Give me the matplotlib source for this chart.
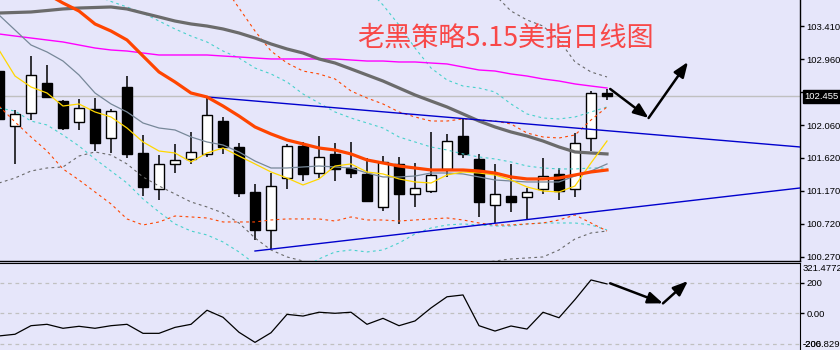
import numpy as np
import matplotlib
matplotlib.use('Agg')
import matplotlib.pyplot as plt
from matplotlib.patches import Rectangle
from matplotlib import transforms

plt.rcParams['font.family'] = ['Noto Sans CJK SC', 'DejaVu Sans']
narrow = ['Liberation Sans', 'DejaVu Sans']
lab_fs = 6.8

# ------------------------
# data (daily bars, oldest first)
# ------------------------
opens = [102.798, 102.050, 102.227, 102.635, 102.390, 102.105, 102.282, 101.887, 102.581, 101.683,
         101.194, 101.534, 101.602, 101.670, 102.118, 101.765, 101.153, 100.636, 101.343, 101.778,
         101.411, 101.670, 101.479, 101.398, 100.949, 101.534, 101.126, 101.166, 101.466, 101.914,
         101.602, 100.976, 101.098, 101.085, 101.194, 101.398, 101.194, 101.887, 102.499]
highs = [102.866, 102.268, 103.002, 102.880, 102.404, 102.418, 102.431, 102.282, 102.730, 101.928,
         101.656, 101.806, 101.969, 102.445, 102.173, 101.819, 101.262, 101.411, 101.806, 101.833,
         101.914, 101.819, 101.833, 101.615, 101.642, 101.629, 101.547, 101.969, 101.942, 102.146,
         101.670, 101.534, 101.534, 101.207, 101.615, 101.479, 101.955, 102.526, 102.554]
lows = [102.064, 101.534, 102.132, 102.431, 101.996, 101.996, 101.710, 101.683, 101.615, 101.098,
        101.044, 101.411, 101.534, 101.629, 101.670, 101.085, 100.500, 100.378, 101.194, 101.302,
        101.343, 101.302, 101.343, 101.017, 100.894, 100.718, 100.949, 101.139, 101.357, 101.615,
        100.813, 100.731, 100.881, 100.786, 101.126, 101.044, 101.085, 101.710, 102.404]
closes = [102.146, 102.214, 102.744, 102.445, 102.023, 102.295, 101.819, 102.254, 101.670, 101.221,
          101.534, 101.588, 101.697, 102.200, 101.765, 101.139, 100.636, 101.234, 101.778, 101.398,
          101.629, 101.466, 101.411, 101.030, 101.561, 101.126, 101.207, 101.384, 101.846, 101.670,
          101.017, 101.126, 101.017, 101.153, 101.370, 101.166, 101.819, 102.499, 102.455]

nan = np.nan
ma_slow = [103.587, 103.594, 103.601, 103.621, 103.642, 103.655, 103.662, 103.669, 103.642, 103.587,
           103.533, 103.478, 103.438, 103.410, 103.370, 103.315, 103.247, 103.166, 103.098, 103.043,
           102.962, 102.907, 102.826, 102.744, 102.662, 102.567, 102.472, 102.390, 102.309, 102.214,
           102.118, 102.037, 101.969, 101.914, 101.846, 101.765, 101.697, 101.683, 101.670]
ma_mid = [104.308, 104.145, 103.995, 103.846, 103.723, 103.614, 103.438, 103.342, 103.220, 103.002,
          102.785, 102.649, 102.499, 102.445, 102.322, 102.186, 102.037, 101.942, 101.860, 101.806,
          101.751, 101.724, 101.670, 101.588, 101.547, 101.506, 101.479, 101.452, 101.452, 101.452,
          101.438, 101.411, 101.357, 101.330, 101.330, 101.343, 101.384, 101.425, 101.452]
ma_long = [103.302, 103.274, 103.247, 103.220, 103.193, 103.152, 103.111, 103.084, 103.070, 103.043,
           103.016, 103.016, 103.016, 103.016, 103.002, 102.989, 102.975, 102.962, 102.962, 102.962,
           102.962, 102.962, 102.948, 102.934, 102.934, 102.921, 102.921, 102.907, 102.894, 102.853,
           102.812, 102.798, 102.758, 102.730, 102.690, 102.662, 102.622, 102.594, 102.567]
ma_10 = [103.560, 103.356, 103.152, 103.057, 102.934, 102.744, 102.499, 102.350, 102.241, 102.091,
         102.023, 101.996, 101.901, 101.833, 101.792, 101.697, 101.574, 101.479, 101.479, 101.493,
         101.506, 101.493, 101.479, 101.411, 101.357, 101.357, 101.370, 101.411, 101.411, 101.398,
         101.357, 101.316, 101.302, 101.289, 101.289, 101.289, 101.370, 101.438, 101.534]
ma_5 = [103.084, 102.730, 102.581, 102.499, 102.322, 102.350, 102.241, 102.173, 102.023, 101.833,
        101.710, 101.683, 101.561, 101.683, 101.751, 101.642, 101.534, 101.425, 101.343, 101.248,
        101.330, 101.506, 101.534, 101.425, 101.398, 101.330, 101.289, 101.275, 101.384, 101.425,
        101.411, 101.384, 101.316, 101.221, 101.166, 101.153, 101.234, 101.547, 101.846]

bb_mid = [nan, nan, nan, nan, nan, nan, 103.832, 103.744, 103.669, 103.587,
          103.478, 103.370, 103.274, 103.193, 103.070, 102.975, 102.839, 102.758, 102.649, 102.486,
          102.363, 102.241, 102.159, 102.091, 102.023, 101.901, 101.833, 101.765, 101.724, 101.670,
          101.629, 101.602, 101.561, 101.506, 101.479, 101.466, 101.466, 101.479, 101.479]
bb_up = [nan] * 23 + [103.927, 103.696, 103.424, 103.111, 102.839, 102.676, 102.594,
                      102.567, 102.513, 102.350, 102.214, 102.159, 102.146, 102.173, 102.241, 102.309]
bb_low = [102.295, 102.254, 102.118, 102.064, 101.928, 101.778, 101.602, 101.438, 101.275, 101.058,
          100.881, 100.718, 100.622, 100.568, 100.473, 100.337, 100.174, 100.092, 100.065, 100.119,
          100.242, 100.337, 100.364, 100.337, 100.364, 100.459, 100.582, 100.663, 100.704, 100.718,
          100.704, 100.690, 100.690, 100.718, 100.731, 100.731, 100.731, 100.704, 100.636]
env_up = [nan] * 14 + [103.968, 103.655, 103.342, 103.070, 102.907, 102.798,
                       102.758, 102.690, 102.526, 102.431, 102.350, 102.241, 102.173, 102.118, 102.118, 102.146,
                       102.132, 102.118, 102.078, 101.955, 101.901, 101.887, 101.928, 102.132, 102.309]
env_low = [102.322, 102.105, 101.901, 101.710, 101.466, 101.316, 101.153, 100.990, 100.786, 100.704,
           100.745, 100.826, 100.813, 100.799, 100.745, 100.745, 100.745, 100.772, 100.786, 100.786,
           100.786, 100.758, 100.813, 100.772, 100.772, 100.758, 100.772, 100.786, 100.799, 100.772,
           100.731, 100.704, 100.704, 100.718, 100.731, 100.772, 100.840, 100.731, 100.622]
env2_up = [nan] * 31 + [103.832, 103.614, 103.492, 103.410, 103.220, 102.921, 102.785, 102.717]
env2_low = [101.275, 101.343, 101.438, 101.479, 101.493, 101.642, 101.697, 101.656, 101.534, 101.357,
            101.234, 101.126, 101.017, 100.949, 100.867, 100.731, 100.527, 100.364, 100.269, 100.214,
            100.160, 100.092, 100.051, 100.024, 100.024, 100.051, 100.078, 100.106, 100.133, 100.160,
            100.187, 100.214, 100.242, 100.255, 100.269, 100.364, 100.514, 100.595, 100.622]

cci = [-148, -137, -81, -72, -98, -85, -98, -81, -72, -131,
       -131, -92, -72, 20, -26, -124, -190, -127, -7, -18,
       7, 0, 7, -72, -33, -81, -50, 35, 108, 120,
       -81, -116, -83, -103, 7, -29, 90, 218, 192]

# trend lines (bar index, price)
upper_tl_x = [13, 50.06]
upper_tl_y = [102.445, 101.765]
lower_tl_x = [16, 50.06]
lower_tl_y = [100.350, 101.207]

# hand-drawn arrows
arrow_x = [38.2, 40.6, 43.06]
arrow_y = [102.554, 102.159, 102.921]
cci_arrow_x = [38.2, 41.5, 43.06]
cci_arrow_y = [196, 65, 211]

price_ticks = [103.410, 102.960, 102.510, 102.060, 101.620, 101.170, 100.720, 100.270]
last_price = 102.455
title = '老黑策略5.15美指日线图'

# ------------------------

bg = '#e6e6fa'
W, H = 840, 350
fig = plt.figure(figsize=(W / 100, H / 100), dpi=100, facecolor=bg)

ax = fig.add_axes([0, (H - 261) / H, 800 / W, 261 / H], facecolor=bg)
ax2 = fig.add_axes([0, 0, 800 / W, 87 / H], facecolor=bg)

x = np.arange(len(opens))

# candles
body_w = 0.67
for i in x:
    o, h, l, c = opens[i], highs[i], lows[i], closes[i]
    ax.plot([i, i], [l, h], color='black', lw=1.1, zorder=2, solid_capstyle='butt')
    up = c >= o
    ax.add_patch(Rectangle((i - body_w / 2, min(o, c)), body_w, max(abs(c - o), 0.004),
                           facecolor='white' if up else 'black', edgecolor='black',
                           lw=1.0, zorder=3))

ax.axhline(last_price, color='#c0c0c0', lw=1, zorder=1)

dash = (0, (2.5, 3))
ax.plot(x, bb_up, color='#48d1cc', lw=0.8, ls=dash, zorder=4)
ax.plot(x, bb_mid, color='#48d1cc', lw=0.8, ls=dash, zorder=4)
ax.plot(x, bb_low, color='#48d1cc', lw=0.8, ls=dash, zorder=4)
ax.plot(x, env_up, color='#ff4500', lw=0.8, ls=dash, zorder=4)
ax.plot(x, env_low, color='#ff4500', lw=0.8, ls=dash, zorder=4)
ax.plot(x, env2_up, color='#696969', lw=0.8, ls=dash, zorder=4)
ax.plot(x, env2_low, color='#696969', lw=0.8, ls=dash, zorder=4)

ax.plot(x, ma_long, color='#ff00ff', lw=1.0, zorder=5)
ax.plot(x, ma_slow, color='#6b6b6b', lw=2.3, zorder=5)
ax.plot(x, ma_10, color='#778899', lw=0.9, zorder=5)
ax.plot(x, ma_5, color='#ffd700', lw=0.9, zorder=5)
ax.plot(x, ma_mid, color='#ff4500', lw=2.3, zorder=6)

ax.plot(upper_tl_x, upper_tl_y, color='#0000cd', lw=1.0, zorder=5)
ax.plot(lower_tl_x, lower_tl_y, color='#0000cd', lw=1.0, zorder=5)

for a, xs, ys in [(ax, arrow_x, arrow_y), (ax2, cci_arrow_x, cci_arrow_y)]:
    for k in range(len(xs) - 1):
        a.annotate('', xy=(xs[k + 1], ys[k + 1]), xytext=(xs[k], ys[k]),
                   arrowprops=dict(arrowstyle='-|>,head_length=0.9,head_width=0.35',
                                   color='black', lw=1.8, shrinkA=0, shrinkB=0),
                   zorder=8)

ax.set_xlim(0.0625, 50.0625)
ax.set_ylim(100.214, 103.764)
ax.yaxis.tick_right()
ax.set_yticks(price_ticks)
ax.set_yticklabels(['%.3f' % v for v in price_ticks], family=narrow)
ax.tick_params(axis='y', length=3, width=1, pad=1.5, labelsize=lab_fs, colors='black')
ax.set_xticks([])
for s in ['left', 'top']:
    ax.spines[s].set_visible(False)
ax.spines['right'].set_linewidth(1.0)
ax.spines['bottom'].set_linewidth(1.0)

ax.annotate('%.3f' % last_price, xy=(1, last_price), xycoords=('axes fraction', 'data'),
            xytext=(3.3, 0), textcoords='offset points', va='center', ha='left',
            fontsize=lab_fs, family=narrow, color='white', annotation_clip=False,
            bbox=dict(boxstyle='square,pad=0.2', fc='black', ec='black'), zorder=10)

fig.text(357 / W, 1 - 38 / H, title, fontsize=19.5, color='#f84848', ha='left', va='center')

# lower panel (CCI)
ax2.plot(x, cci, color='black', lw=0.9, zorder=3)
for lvl in [200, 0, -200]:
    ax2.axhline(lvl, color='#c0c0c0', lw=0.9, ls=(0, (3, 3)), zorder=1)
ax2.set_xlim(0.0625, 50.0625)
ax2.set_ylim(-239.9, 328.8)
ax2.yaxis.tick_right()
ax2.set_yticks([200, 0])
ax2.set_yticklabels(['200', '0.00'], family=narrow)
ax2.tick_params(axis='y', length=3, width=1, pad=1.5, labelsize=lab_fs, colors='black')
ax2.set_xticks([])
for s in ['left', 'bottom']:
    ax2.spines[s].set_visible(False)
for txt, val, va in [('321.4772', 321.4772, 'top'), ('-200', -206.829, 'center'),
                     ('-206.829', -206.829, 'center')]:
    ax2.annotate(txt, xy=(1, val), xycoords=('axes fraction', 'data'), xytext=(2.2, 0),
                 textcoords='offset points', fontsize=lab_fs, family=narrow, va=va, ha='left',
                 annotation_clip=False)

fig.savefig('out.png', dpi=100, facecolor=bg)
